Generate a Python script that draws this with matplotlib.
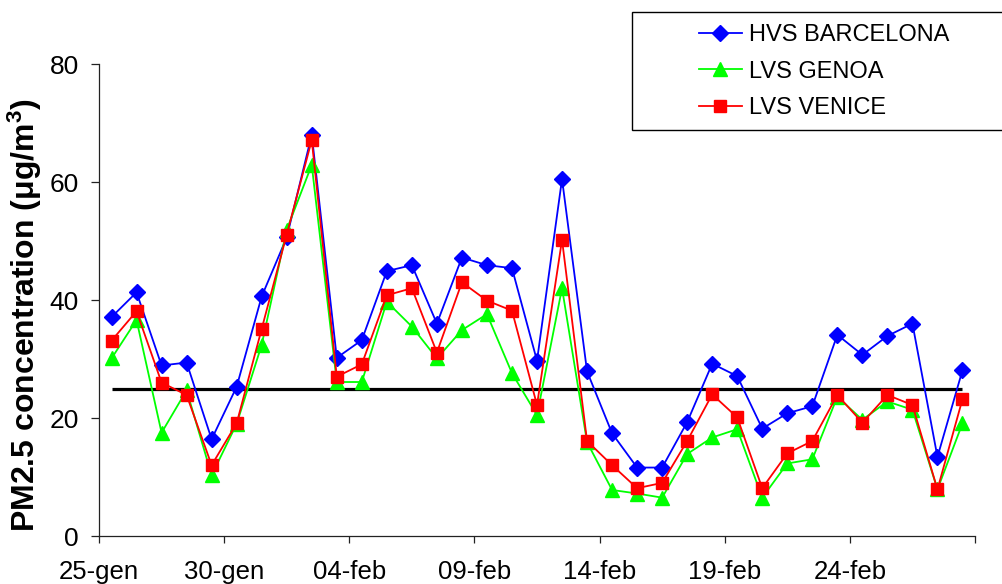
import numpy as np
import matplotlib
matplotlib.use("Agg")
import matplotlib.pyplot as plt
from matplotlib.patches import Rectangle

plt.rcParams['font.family'] = ['Liberation Sans', 'DejaVu Sans']
plt.rcParams['mathtext.fontset'] = 'custom'
plt.rcParams['mathtext.rm'] = 'Liberation Sans:bold'

# Daily PM2.5 values, 25 Jan -> 28 Feb
barcelona = [37.1, 41.3, 28.9, 29.4, 16.4, 25.3, 40.6, 50.6, 68.0, 30.2,
             33.2, 44.9, 45.9, 36.0, 47.2, 45.9, 45.4, 29.7, 60.5, 27.9,
             17.4, 11.6, 11.6, 19.3, 29.2, 27.1, 18.2, 20.8, 22.0, 34.1,
             30.7, 33.9, 36.0, 13.4, 28.1]
genoa = [30.1, 36.6, 17.5, 24.7, 10.3, 19.0, 32.4, 51.9, 62.9, 26.1,
         26.1, 39.7, 35.5, 30.1, 34.9, 37.6, 27.6, 20.5, 42.0, 15.9,
         7.8, 7.2, 6.5, 13.9, 16.7, 18.1, 6.5, 12.3, 13.0, 23.6,
         19.7, 22.8, 21.4, 7.9, 19.1]
venice = [33.1, 38.1, 26.0, 23.9, 12.0, 19.1, 35.1, 51.1, 67.1, 27.0,
          29.1, 40.8, 42.0, 31.1, 43.0, 39.9, 38.2, 22.2, 50.2, 16.1,
          12.0, 8.1, 9.0, 16.1, 24.0, 20.1, 8.1, 14.0, 16.1, 23.9,
          19.2, 23.9, 22.2, 7.9, 23.2]
limit_value = 25
tick_labels = ["25-gen", "30-gen", "04-feb", "09-feb", "14-feb", "19-feb", "24-feb", ""]

n = len(barcelona)
x = np.arange(n) + 0.5  # points sit in the middle of each day slot

fig = plt.figure(figsize=(10.02, 5.84), dpi=100)
ax = fig.add_axes([99 / 1002, 48 / 584, 876 / 1002, 472 / 584])

# limit line
ax.hlines(limit_value, x[0], x[-1], color='black', linewidth=2.3, zorder=1)

ax.plot(x, barcelona, color='#0000FF', linewidth=1.3, marker='D', markersize=7.8,
        label='HVS BARCELONA', zorder=2)
ax.plot(x, genoa, color='#00FF00', linewidth=1.3, marker='^', markersize=9.5,
        label='LVS GENOA', zorder=3)
ax.plot(x, venice, color='#FF0000', linewidth=1.3, marker='s', markersize=9,
        label='LVS VENICE', zorder=4)

ax.set_xlim(0, n)
ax.set_ylim(0, 80)
ax.set_xticks(np.arange(0, n + 1, 5))
ax.set_xticklabels(tick_labels)
ax.set_yticks([0, 20, 40, 60, 80])

for side in ['top', 'right']:
    ax.spines[side].set_visible(False)
for side in ['left', 'bottom']:
    ax.spines[side].set_linewidth(0.9)
    ax.spines[side].set_color('#222222')

ax.tick_params(axis='y', direction='out', length=5.5, width=0.9, pad=9,
               labelsize=19, color='#222222')
ax.tick_params(axis='x', direction='out', length=5, width=0.9, pad=12,
               labelsize=18.5, color='#222222')

fig.text(25 / 1002, 1 - 315 / 584,
         r'PM2.5 concentration (μg/m$\mathrm{^{3}}$)',
         rotation=90, ha='center', va='center', fontsize=23, fontweight='bold')

# legend box
fig.patches.append(Rectangle((632 / 1002, 1 - 130 / 584), 0.4, 118 / 584,
                             transform=fig.transFigure, facecolor='white',
                             edgecolor='black', linewidth=1, zorder=5))
leg = fig.legend(loc='upper left', bbox_to_anchor=(699 / 1002, 1 - 24 / 584),
                 frameon=False, borderpad=0, fontsize=17, handlelength=1.8,
                 handletextpad=0.3, labelspacing=0.62, borderaxespad=0)
leg.set_zorder(6)

fig.savefig('out.png', dpi=100)
